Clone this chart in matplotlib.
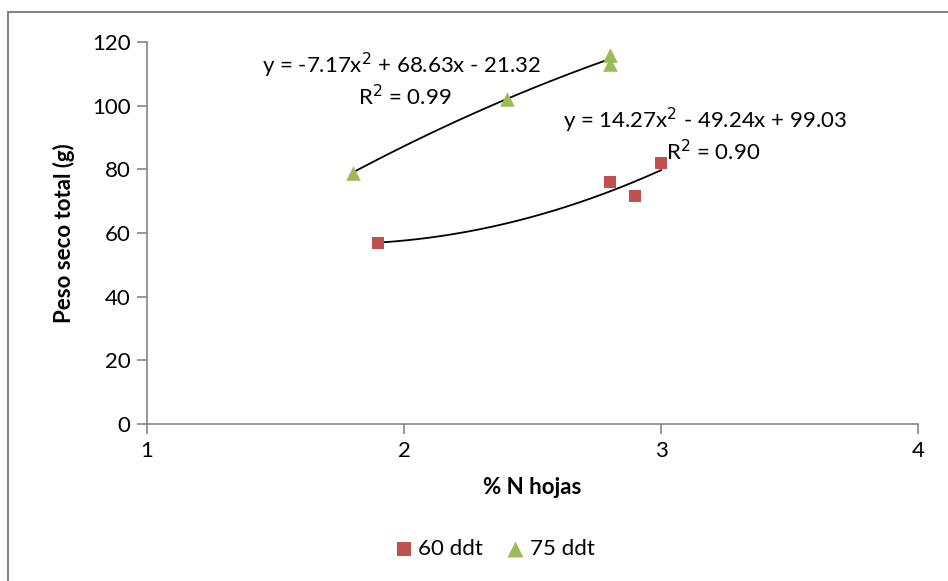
import matplotlib.pyplot as plt
import matplotlib.patches as patches
import numpy as np

plt.rcParams['font.family'] = ['Lato', 'DejaVu Sans']

# data
x_60 = [1.9, 2.8, 2.9, 3.0]
y_60 = [57, 76, 71.5, 82]
x_75 = [1.8, 2.4, 2.8, 2.8]
y_75 = [79, 102, 116, 113]

# trendline coefficients (as shown on the chart)
coef_60 = [14.27, -49.24, 99.03]
coef_75 = [-7.17, 68.63, -21.32]

red = '#c0504d'
green = '#9bbb59'
gray = '#868686'
fs = 16

fig = plt.figure(figsize=(9.48, 5.81), dpi=100)
ax = fig.add_axes([147/948, 1-424/581, (918-147)/948, (424-42)/581])

# outer chart border (cut off at right/bottom)
fig.patches.append(patches.Rectangle((8/948, -0.1), 1.2, 1.1-12/581,
                                     transform=fig.transFigure, fill=False,
                                     edgecolor=gray, linewidth=1.5))

# trendlines
xs = np.linspace(min(x_60), max(x_60), 100)
ax.plot(xs, np.polyval(coef_60, xs), color='black', lw=1.3, zorder=2)
xs = np.linspace(min(x_75), max(x_75), 100)
ax.plot(xs, np.polyval(coef_75, xs), color='black', lw=1.3, zorder=2)

ax.scatter(x_60, y_60, marker='s', s=80, color=red, label='60 ddt', zorder=3, linewidths=0)
ax.scatter(x_75, y_75, marker='^', s=110, color=green, label='75 ddt', zorder=3, linewidths=0)

ax.set_xlim(1, 4)
ax.set_ylim(0, 120)
ax.set_xticks([1, 2, 3, 4])
ax.set_yticks(range(0, 121, 20))
for s in ['top', 'right']:
    ax.spines[s].set_visible(False)
for s in ['left', 'bottom']:
    ax.spines[s].set_color(gray)
    ax.spines[s].set_linewidth(1.2)
ax.tick_params(direction='out', length=7, width=1.2, color=gray,
               labelsize=fs, pad=5)

ax.set_xlabel('% N hojas', fontsize=fs, fontweight='bold', labelpad=12)
ax.set_ylabel('Peso seco total (g)', fontsize=fs, fontweight='bold', labelpad=12)

ax.text(1.99, 112.5, 'y = -7.17x$^{2}$ + 68.63x - 21.32', fontsize=fs, ha='center', va='center')
ax.text(1.82, 103, 'R$^{2}$ = 0.99', fontsize=fs, ha='left', va='center')
ax.text(3.17, 95.5, 'y = 14.27x$^{2}$ - 49.24x + 99.03', fontsize=fs, ha='center', va='center')
ax.text(3.02, 85.5, 'R$^{2}$ = 0.90', fontsize=fs, ha='left', va='center')

ax.legend(loc='center', bbox_to_anchor=(492/948, 1-549/581), bbox_transform=fig.transFigure,
          ncol=2, frameon=False, fontsize=fs, handletextpad=0.0, columnspacing=0.8,
          markerscale=1.1, handlelength=1.3)

fig.savefig('out.png', dpi=100)
